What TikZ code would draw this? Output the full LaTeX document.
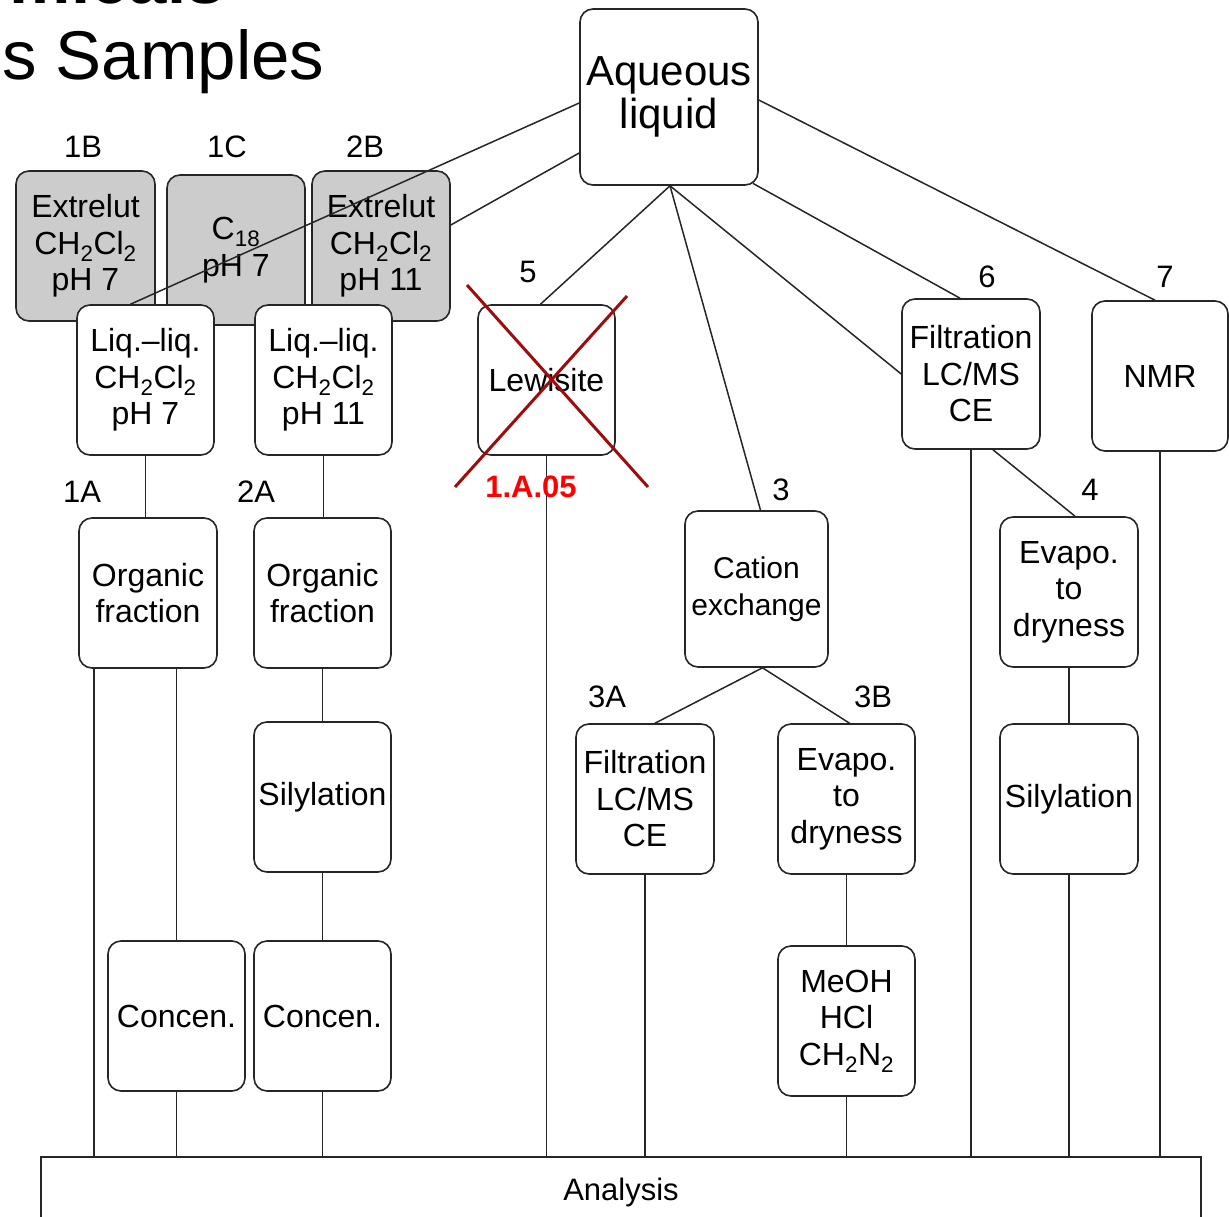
\documentclass[tikz,border=0pt]{standalone}
\usepackage{fontspec}
\setmainfont{Liberation Sans}
\begin{document}
\begin{tikzpicture}[x=1pt,y=-1pt,
  bx/.style={draw=black!85, line width=1.6pt, rounded corners=13pt, fill=white, align=center,
    inner sep=0pt, minimum width=138pt, minimum height=150pt, font=\fontsize{32}{36.5}\selectfont},
  gbx/.style={bx, fill=black!20},
  lbl/.style={inner sep=0pt, font=\fontsize{31}{36}\selectfont},
  conn/.style={line width=1.5pt, draw=black!85},
  xline/.style={line width=3pt, draw=red!60!black!95}]
\useasboundingbox (0,0) rectangle (1229,1217);

% title fragments
\node[anchor=base west, inner sep=0pt, font=\fontsize{69}{72}\selectfont] (ttl) at (2,80) {s Samples};
\node[anchor=base east, inner sep=0pt, font=\fontsize{69}{72}\selectfont\bfseries] (ttl2) at (225,4) {micals};

% top node
\node[bx, minimum width=178pt, minimum height=176pt, font=\fontsize{42}{43}\selectfont] (aq) at (669,97) {Aqueous\\liquid};

% gray boxes
\node[gbx, minimum width=139pt] (ext1) at (85.5,246) {Extrelut\\CH\textsubscript{2}Cl\textsubscript{2}\\pH 7};
\node[gbx] (c18) at (236,250) {C\textsubscript{18}\\pH 7};
\node[gbx] (ext2) at (381,246) {Extrelut\\CH\textsubscript{2}Cl\textsubscript{2}\\pH 11};

% left branches
\node[bx, minimum width=137pt] (liq1) at (145.5,380) {Liq.–liq.\\CH\textsubscript{2}Cl\textsubscript{2}\\pH 7};
\node[bx, minimum width=137pt] (liq2) at (323.5,380) {Liq.–liq.\\CH\textsubscript{2}Cl\textsubscript{2}\\pH 11};
\node[bx] (org1) at (148,593) {Organic\\fraction};
\node[bx, minimum width=137pt] (org2) at (322.5,593) {Organic\\fraction};
\node[bx, minimum width=137pt] (sil1) at (322.5,797) {Silylation};
\node[bx, minimum width=137pt] (con1) at (176.5,1016) {Concen.};
\node[bx, minimum width=137pt] (con2) at (322.5,1016) {Concen.};

% middle
\node[bx, minimum width=137pt] (lew) at (546.5,380) {Lewisite};
\node[bx, minimum width=143pt, minimum height=156pt, font=\fontsize{30}{36.5}\selectfont] (cat) at (756.5,589) {Cation\\exchange};
\node[bx] (fil3) at (645,799) {Filtration\\LC/MS\\CE};
\node[bx, minimum width=137pt] (eva3) at (846.5,799) {Evapo.\\to\\dryness};
\node[bx, minimum width=137pt] (meoh) at (846.5,1021) {MeOH\\HCl\\CH\textsubscript{2}N\textsubscript{2}};

% right
\node[bx] (fil6) at (971,374) {Filtration\\LC/MS\\CE};
\node[bx, minimum width=136pt] (nmr) at (1160,376) {NMR};
\node[bx] (eva4) at (1069,592) {Evapo.\\to\\dryness};
\node[bx] (sil4) at (1069,799) {Silylation};

% analysis
\node[draw=black!85, line width=1.6pt, fill=white, minimum width=1160pt, minimum height=70pt, inner sep=0pt,
  font=\fontsize{31}{36}\selectfont] (ana) at (621,1192) {Analysis};

% labels
\node[lbl] (l1b) at (83,147) {1B};
\node[lbl] (l1c) at (227,147) {1C};
\node[lbl] (l2b) at (365,147) {2B};
\node[lbl] (l5) at (528,272) {5};
\node[lbl] (l1a) at (82,492) {1A};
\node[lbl] (l2a) at (256,492) {2A};
\node[lbl] (l3) at (781,490) {3};
\node[lbl] (l3a) at (607,697) {3A};
\node[lbl] (l3b) at (873,697) {3B};
\node[lbl] (l6) at (987,277) {6};
\node[lbl] (l7) at (1165,277) {7};
\node[lbl] (l4) at (1090,490) {4};

% connectors from aqueous liquid
\coordinate (aqb) at ([xshift=1pt]aq.south);
\coordinate (e2p) at ([yshift=21pt]ext2.east);
\coordinate (l1t) at ([xshift=-15pt]liq1.north);
\draw[conn] ([yshift=-6pt]aq.west) -- (l1t);
\draw[conn] ([yshift=-56pt]aq.west) -- (e2p);
\draw[conn] (aqb) -- ([xshift=-6pt]lew.north);
\draw[conn] (aqb) -- ([xshift=4pt]cat.north);
\draw[conn] (aqb) -- (fil6.west);
\draw[conn] ([xshift=-6pt,yshift=2.5pt]aq.south east) -- ([xshift=-11pt]fil6.north);
\draw[conn] ([yshift=-3pt]aq.east) -- ([xshift=-5pt]nmr.north);

% left column connectors
\draw[conn] (liq1.south |- org1.north) -- (liq1.south);
\draw[conn] (liq2.south) -- (liq2.south |- org2.north);
\coordinate (o1a) at ([xshift=16pt]org1.south west);
\draw[conn] (o1a) -- (o1a |- ana.north);
\draw[conn] (con1.north |- org1.south) -- (con1.north);
\draw[conn] (con1.south) -- (con1.south |- ana.north);
\draw[conn] (org2.south) -- (sil1.north);
\draw[conn] (sil1.south) -- (con2.north);
\draw[conn] (con2.south) -- (con2.south |- ana.north);

% middle connectors
\draw[conn] (lew.south) -- (lew.south |- ana.north);
\coordinate (catb) at ([xshift=6pt]cat.south);
\draw[conn] (catb) -- ([xshift=10pt]fil3.north);
\draw[conn] (catb) -- ([xshift=3pt]eva3.north);
\draw[conn] (fil3.south) -- (fil3.south |- ana.north);
\draw[conn] (eva3.south) -- (meoh.north);
\draw[conn] (meoh.south) -- (meoh.south |- ana.north);

% right connectors
\draw[conn] (fil6.south) -- (fil6.south |- ana.north);
\draw[conn] ([xshift=22pt]fil6.south) -- ([xshift=6pt]eva4.north);
\draw[conn] (eva4.south) -- (sil4.north);
\draw[conn] (sil4.south) -- (sil4.south |- ana.north);
\draw[conn] (nmr.south) -- (nmr.south |- ana.north);

% red cross on Lewisite
\coordinate (x1) at (467,285);
\coordinate (x2) at (648,487);
\coordinate (x3) at (627,296);
\coordinate (x4) at (455,487);
\draw[xline] (x1) -- (x2);
\draw[xline] (x3) -- (x4);
\node[inner sep=0pt, text=red, font=\fontsize{31}{36}\selectfont\bfseries] (code) at (531,487) {1.A.05};
\end{tikzpicture}
\end{document}
